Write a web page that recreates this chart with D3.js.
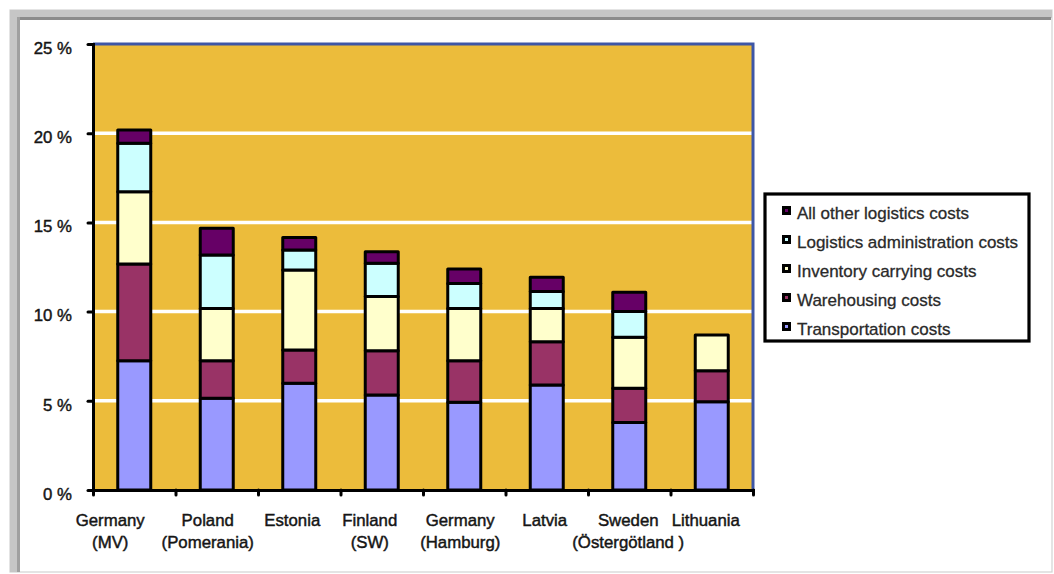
<!DOCTYPE html>
<html>
<head>
<meta charset="utf-8">
<script src="https://cdn.jsdelivr.net/npm/d3@7"></script>
<style>
  html, body { margin: 0; padding: 0; background: #ffffff; }
  svg { display: block; font-family: "Liberation Sans", Arial, sans-serif; }
</style>
</head>
<body>
<svg id="chart" width="1054" height="574"></svg>
<script>
// ---------- data ----------
const categories = ["Germany\n(MV)", "Poland\n(Pomerania)", "Estonia", "Finland\n(SW)",
                    "Germany\n(Hamburg)", "Latvia", "Sweden\n(Östergötland )", "Lithuania"];
const transportation = [7.25, 5.14, 5.98, 5.33, 4.92, 5.89, 3.79, 4.95];
const warehousing    = [5.42, 2.11, 1.87, 2.48, 2.33, 2.42, 1.91, 1.74];
const inventory      = [4.05, 2.93, 4.48, 3.03, 2.93, 1.87, 2.86, 2.00];
const administration = [2.71, 2.99, 1.12, 1.87, 1.40, 0.94, 1.44, 0.00];
const otherCosts     = [0.75, 1.50, 0.71, 0.65, 0.81, 0.80, 1.08, 0.00];
const seriesNames = ["Transportation costs", "Warehousing costs", "Inventory carrying costs",
                     "Logistics administration costs", "All other logistics costs"];
const yTicks = [0, 5, 10, 15, 20, 25];

// ---------- styling / layout ----------
const colors = ["#9999FF", "#993366", "#FFFFCC", "#CCFFFF", "#660066"];
const labelShift = [-24, -9, -7, -12, -4, -2, -1, -6];
const plot = { left: 93, right: 753, top: 44, bottom: 490 };
const textStyle = sel => sel.attr("font-size", 16.8).attr("fill", "#151515")
  .attr("stroke", "#151515").attr("stroke-width", 0.45).attr("font-family", "Liberation Sans, Arial, sans-serif");

const svg = d3.select("#chart");

// outer frame
svg.append("rect").attr("x", 10).attr("y", 10).attr("width", 1042).attr("height", 562)
  .attr("fill", "#ffffff").attr("stroke", "#d2d2d2").attr("stroke-width", 1.2);
svg.append("rect").attr("x", 10).attr("y", 10).attr("width", 1042).attr("height", 8).attr("fill", "#c6c6c6");
svg.append("rect").attr("x", 10).attr("y", 17).attr("width", 1041).attr("height", 3).attr("fill", "#8c8c8c");
svg.append("rect").attr("x", 10).attr("y", 10).attr("width", 8).attr("height", 562).attr("fill", "#c6c6c6");
svg.append("rect").attr("x", 17).attr("y", 17).attr("width", 3).attr("height", 555).attr("fill", "#a0a0a0");

// scales
const x = d3.scaleBand().domain(categories).range([plot.left, plot.right])
  .paddingInner(0.6).paddingOuter(0.3);
const xEdges = d3.scaleLinear().domain([0, categories.length]).range([plot.left, plot.right]);
const y = d3.scaleLinear().domain([0, 25]).range([plot.bottom, plot.top]);

// plot background
svg.append("rect").attr("x", plot.left).attr("y", plot.top)
  .attr("width", plot.right - plot.left).attr("height", plot.bottom - plot.top)
  .attr("fill", "#ECBC3B");

// gridlines
svg.append("g").selectAll("line").data(yTicks.filter(d => d > 0 && d < 25)).join("line")
  .attr("x1", plot.left).attr("x2", plot.right)
  .attr("y1", d => y(d)).attr("y2", d => y(d))
  .attr("stroke", "#ffffff").attr("stroke-width", 3.5);

// blue top/right border
svg.append("path")
  .attr("d", `M${plot.left},${y(25)}H${plot.right}V${y(0)}`)
  .attr("fill", "none").attr("stroke", "#3E56A6").attr("stroke-width", 3);

// stacked bars
const rows = categories.map((c, i) => ({
  cat: c, s0: transportation[i], s1: warehousing[i], s2: inventory[i], s3: administration[i], s4: otherCosts[i]
}));
const keys = ["s0", "s1", "s2", "s3", "s4"];
const stacked = d3.stack().keys(keys)(rows);

const gBars = svg.append("g");
stacked.forEach((layer, k) => {
  gBars.append("g").selectAll("rect")
    .data(layer.filter(d => d[1] - d[0] > 0))
    .join("rect")
    .attr("x", d => x(d.data.cat))
    .attr("width", x.bandwidth())
    .attr("y", d => y(d[1]))
    .attr("height", d => y(d[0]) - y(d[1]))
    .attr("fill", colors[k])
    .attr("stroke", "#000").attr("stroke-width", 3).attr("stroke-linejoin", "round");
});

// y axis
const yAxis = svg.append("g").attr("transform", `translate(${plot.left},0)`)
  .call(d3.axisLeft(y).tickValues(yTicks).tickSize(5).tickPadding(16).tickFormat(d => d + " %"));
yAxis.select(".domain").attr("stroke", "#000").attr("stroke-width", 3);
yAxis.selectAll(".tick line").attr("stroke", "#000").attr("stroke-width", 3).attr("stroke-linecap", "round");
yAxis.selectAll(".tick text").call(textStyle).attr("dy", "0.55em");

// x axis (ticks at category boundaries)
const xAxis = svg.append("g").attr("transform", `translate(0,${plot.bottom})`)
  .call(d3.axisBottom(xEdges).tickValues(d3.range(0, categories.length + 1)).tickSize(5).tickFormat(""));
xAxis.select(".domain").attr("stroke", "#000").attr("stroke-width", 3);
xAxis.selectAll(".tick line").attr("stroke", "#000").attr("stroke-width", 3).attr("stroke-linecap", "round");

// category labels
const gLab = svg.append("g");
categories.forEach((c, i) => {
  const cx = x(c) + x.bandwidth() / 2 + labelShift[i];
  const t = gLab.append("text").attr("text-anchor", "middle").call(textStyle);
  c.split("\n").forEach((line, j) => {
    t.append("tspan").attr("x", cx).attr("y", 526 + j * 21.5).text(line);
  });
});

// legend
const lg = svg.append("g");
lg.append("rect").attr("x", 765).attr("y", 194).attr("width", 264).attr("height", 147)
  .attr("fill", "#fff").attr("stroke", "#000").attr("stroke-width", 3.2);
const legendOrder = d3.range(seriesNames.length).reverse();
legendOrder.forEach((k, r) => {
  const cy = 212 + r * 29;
  lg.append("rect").attr("x", 783.5).attr("y", cy - 4.5).attr("width", 6).attr("height", 6)
    .attr("fill", colors[k]).attr("stroke", "#000").attr("stroke-width", 3);
  lg.append("text").attr("x", 797).attr("y", cy + 7).call(textStyle).attr("font-size", 17)
    .attr("fill", "#2a2a2a").attr("stroke", "#2a2a2a").attr("stroke-width", 0.3)
    .text(seriesNames[k]);
});
</script>
</body>
</html>
